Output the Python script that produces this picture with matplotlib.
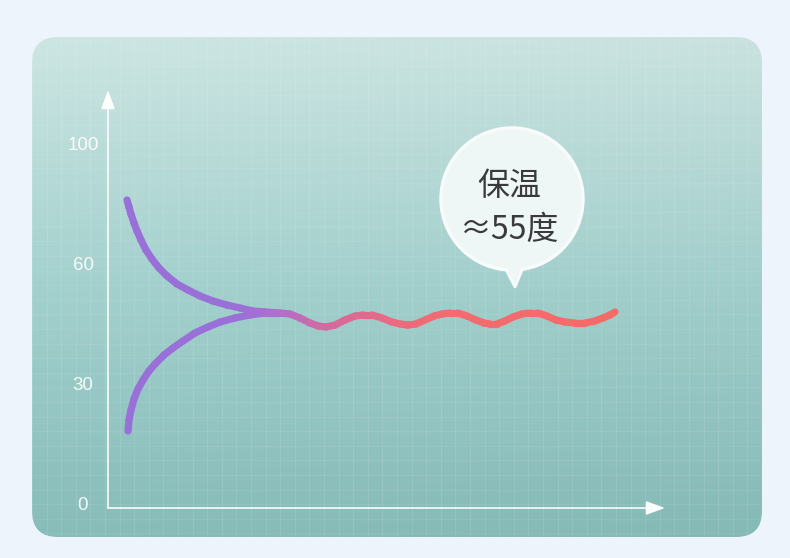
import numpy as np
import matplotlib
matplotlib.use("Agg")
import matplotlib.pyplot as plt
from matplotlib.patches import FancyBboxPatch, Circle, Polygon
from matplotlib.collections import LineCollection
from matplotlib.colors import LinearSegmentedColormap, to_rgb

# ---------------- data ----------------
y_tick_pos = [0, 1, 2, 3]
y_tick_labels = ["0", "30", "60", "100"]

# cooling branch (hot water coming down)
cool_x = [3.41, 3.77, 4.13, 4.67, 5.21, 5.92, 6.82, 7.90, 9.16, 10.59, 12.39,
          14.36, 16.52, 18.85, 21.36, 23.70, 26.03, 28.19, 30.88]
cool_y = [2.525, 2.467, 2.408, 2.333, 2.267, 2.192, 2.108, 2.033, 1.958, 1.892,
          1.825, 1.775, 1.725, 1.683, 1.65, 1.625, 1.60, 1.592, 1.583]

# heating branch (cold water coming up)
heat_x = [3.59, 3.77, 4.13, 4.67, 5.39, 6.28, 7.36, 8.62, 10.05, 11.67, 13.46,
          15.62, 17.95, 20.11, 22.80, 25.49, 28.19, 30.88]
heat_y = [0.60, 0.692, 0.775, 0.867, 0.95, 1.025, 1.10, 1.167, 1.233, 1.292,
          1.35, 1.417, 1.467, 1.508, 1.542, 1.567, 1.583, 1.583]

# keep-warm wave
keep_x = [30.88, 32.68, 34.47, 36.27, 37.70, 39.14, 40.75, 42.55, 44.34, 45.78,
          47.40, 49.19, 50.99, 52.42, 53.86, 55.30, 56.91, 58.53, 59.96, 61.40,
          62.84, 64.45, 66.07, 67.50, 68.58, 69.84, 71.27, 72.71, 74.33, 75.76,
          77.20, 78.82, 80.43, 82.05, 83.84, 85.64, 87.43, 88.87, 90.13, 91.02]
keep_y = [1.583, 1.575, 1.542, 1.50, 1.475, 1.467, 1.483, 1.525, 1.558, 1.567,
          1.567, 1.542, 1.508, 1.492, 1.483, 1.492, 1.525, 1.558, 1.575, 1.583,
          1.583, 1.558, 1.525, 1.50, 1.492, 1.492, 1.517, 1.55, 1.575, 1.583,
          1.583, 1.558, 1.525, 1.508, 1.50, 1.50, 1.517, 1.542, 1.567, 1.592]

bubble_lines = ["保温", "≈55度"]

# ---------------- figure ----------------
W, H = 790, 558
fig = plt.figure(figsize=(W / 100, H / 100), dpi=100)
fig.patch.set_facecolor("#eef4fc")

bg = fig.add_axes([0, 0, 1, 1], zorder=0)
bg.set_xlim(0, W)
bg.set_ylim(H, 0)
bg.axis("off")

panel = FancyBboxPatch((32, 37), 730, 500, boxstyle="round,pad=0,rounding_size=26",
                       facecolor="none", edgecolor="none", transform=bg.transData)
bg.add_patch(panel)

# vertical gradient
nrow, ncol = 200, 60
t = np.linspace(0, 1, nrow)[:, None]
stops_t = [0.0, 0.5, 1.0]
stops_c = [to_rgb("#cbe4e1"), to_rgb("#a2cfcc"), to_rgb("#86bbb8")]
img = np.zeros((nrow, ncol, 3))
for k in range(3):
    img[:, :, k] = np.interp(t[:, 0], stops_t, [c[k] for c in stops_c])[:, None]
sx = np.linspace(0, 1, ncol)[None, :]
img = np.clip(img * (1.0 + 0.015 * (0.5 - sx))[:, :, None], 0, 1)
im = bg.imshow(img, extent=(32, 762, 537, 37), aspect="auto", interpolation="bilinear", zorder=1)
im.set_clip_path(panel)

# faint grid texture
for gx in np.arange(32, 762, 14.6):
    ln = bg.plot([gx, gx], [37, 537], color="white", alpha=0.10, lw=0.7, zorder=2)[0]
    ln.set_clip_path(panel)
for gy in np.arange(37, 537, 14.6):
    ln = bg.plot([32, 762], [gy, gy], color="white", alpha=0.07, lw=0.7, zorder=2)[0]
    ln.set_clip_path(panel)

# ---------------- chart axes ----------------
ax = fig.add_axes([108 / W, (H - 508) / H, (665 - 108) / W, (508 - 90) / H], zorder=2)
ax.patch.set_alpha(0)
ax.set_xlim(0, 100)
ax.set_ylim(-5 / 120, 413 / 120)
for s in ax.spines.values():
    s.set_visible(False)
ax.set_xticks([])
ax.set_yticks(y_tick_pos, y_tick_labels)
ax.tick_params(axis="y", length=0, pad=18, labelsize=13.5, labelcolor=(1, 1, 1, 0.9))
for lbl in ax.get_yticklabels():
    lbl.set_ha("center")
    lbl.set_fontfamily("Liberation Sans")

arrow_kw = dict(arrowstyle="-|>,head_length=1.15,head_width=0.42", color="white",
                lw=1.2, shrinkA=0, shrinkB=0, mutation_scale=10, alpha=0.95)
ax.annotate("", xy=(0, 1), xytext=(0, 0), xycoords="axes fraction", arrowprops=arrow_kw)
ax.annotate("", xy=(1, 0), xytext=(0, 0), xycoords="axes fraction", arrowprops=arrow_kw)

# gradient-coloured lines
cmap = LinearSegmentedColormap.from_list(
    "temp",
    [(0.0, "#9770d8"), (24 / 91, "#9a70d8"), (31 / 91, "#ae6fcd"), (38 / 91, "#cf6aa4"),
     (52 / 91, "#ec6a7e"), (62 / 91, "#f26b6e"), (1.0, "#f56b68")])


def grad_line(xs, ys):
    pts = np.column_stack([xs, ys])
    segs = np.stack([pts[:-1], pts[1:]], axis=1)
    mids = (pts[:-1, 0] + pts[1:, 0]) / 2
    lc = LineCollection(segs, colors=cmap(mids / 91.0), linewidths=5.2,
                        capstyle="round", joinstyle="round", zorder=3)
    ax.add_collection(lc)


grad_line(cool_x, cool_y)
grad_line(heat_x, heat_y)
grad_line(keep_x, keep_y)

# ---------------- speech bubble ----------------
cx, cy, r = 512, 199, 71
tail = Polygon([[500, 258], [527, 258], [515, 287]], closed=True,
               facecolor="#eef6f6", edgecolor="#f7fbfb", lw=2, zorder=4,
               joinstyle="round")
bg.add_patch(tail)
circ = Circle((cx, cy), r, facecolor="#eef6f6", edgecolor="#f7fbfb", lw=2.5, zorder=5)
bg.add_patch(circ)
tail2 = Polygon([[502, 255], [525, 255], [515, 284]], closed=True,
                facecolor="#eef6f6", edgecolor="none", zorder=6)
bg.add_patch(tail2)
fam = ["Noto Sans CJK SC", "DejaVu Sans"]
bg.text(cx - 3, 186, bubble_lines[0], ha="center", va="center", fontsize=23,
        color="#3a3a3a", family=fam, weight="light", zorder=7)
bg.text(cx - 2, 230, bubble_lines[1], ha="center", va="center", fontsize=23,
        color="#3a3a3a", family=fam, weight="light", zorder=7)

fig.savefig("out.png", dpi=100, facecolor=fig.get_facecolor())
